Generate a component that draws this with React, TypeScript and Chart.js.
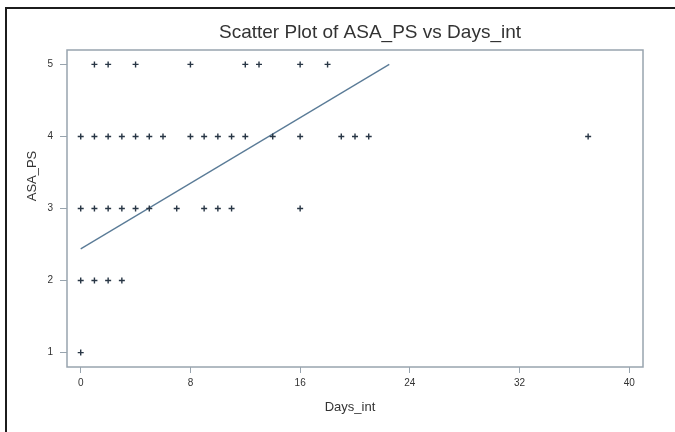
import React, { useEffect, useRef } from "react";
import { Chart, registerables } from "chart.js";

Chart.register(...registerables);

// ---- data ----
const asa5Days = [1, 2, 4, 8, 12, 13, 16, 18];
const asa4Days = [0, 1, 2, 3, 4, 5, 6, 8, 9, 10, 11, 12, 14, 16, 19, 20, 21, 37];
const asa3Days = [0, 1, 2, 3, 4, 5, 7, 9, 10, 11, 16];
const asa2Days = [0, 1, 2, 3];
const asa1Days = [0];
const fitDays = [0, 22.5];
const fitAsa = [2.44, 5.0];
const xTicks = [0, 8, 16, 24, 32, 40];
const yTicks = [1, 2, 3, 4, 5];

const titleText = "Scatter Plot of ASA_PS vs Days_int";
const xTitle = "Days_int";
const yTitle = "ASA_PS";

const FONT = "'Liberation Sans', Arial, sans-serif";
const AXIS_COLOR = "#98a4ae";

const rows: [number, number[]][] = [
  [5, asa5Days],
  [4, asa4Days],
  [3, asa3Days],
  [2, asa2Days],
  [1, asa1Days],
];

const scatterPoints = rows.flatMap(([asa, days]) => days.map((d) => ({ x: d, y: asa })));
const fitPoints = fitDays.map((d, i) => ({ x: d, y: fitAsa[i] }));

const decorPlugin = {
  id: "decor",
  beforeDatasetsDraw(chart: any) {
    const { ctx, chartArea: a } = chart;
    ctx.save();
    ctx.strokeStyle = AXIS_COLOR;
    ctx.lineWidth = 1.5;
    ctx.strokeRect(a.left, a.top, a.right - a.left, a.bottom - a.top);
    ctx.restore();
  },
  afterDraw(chart: any) {
    const { ctx } = chart;
    ctx.save();
    ctx.fillStyle = "#333";
    ctx.textAlign = "center";
    ctx.textBaseline = "middle";
    ctx.font = `19px ${FONT}`;
    ctx.fillText(titleText, 370, 33);
    ctx.font = `13px ${FONT}`;
    ctx.fillText(xTitle, 350, 407);
    ctx.translate(32, 176);
    ctx.rotate(-Math.PI / 2);
    ctx.fillText(yTitle, 0, 0);
    ctx.restore();
  },
};

export default function App() {
  const ref = useRef<HTMLCanvasElement>(null);

  useEffect(() => {
    if (!ref.current) return;
    const chart = new Chart(ref.current, {
      type: "scatter",
      data: {
        datasets: [
          {
            label: "ASA_PS",
            data: scatterPoints,
            pointStyle: "cross",
            pointRadius: 3,
            pointBorderWidth: 1.4,
            borderColor: "#283645",
            backgroundColor: "#283645",
          } as any,
          {
            label: "fit",
            data: fitPoints,
            showLine: true,
            pointRadius: 0,
            borderColor: "#5a7b97",
            borderWidth: 1.3,
          } as any,
        ],
      },
      options: {
        animation: false,
        responsive: false,
        events: [],
        layout: { padding: { top: 50, right: 32, left: 0, bottom: 0 } },
        plugins: {
          legend: { display: false },
          tooltip: { enabled: false },
          title: { display: false },
        },
        scales: {
          x: {
            type: "linear",
            min: -1,
            max: 41,
            afterBuildTicks: (s: any) => {
              s.ticks = xTicks.map((v) => ({ value: v }));
            },
            afterFit: (s: any) => {
              s.height = 65;
            },
            grid: { drawOnChartArea: false, drawTicks: true, tickLength: 6, color: AXIS_COLOR, lineWidth: 1 },
            border: { display: false },
            ticks: { color: "#333", font: { family: FONT, size: 10 }, padding: 4, maxRotation: 0 },
          },
          y: {
            type: "linear",
            min: 0.8,
            max: 5.2,
            afterBuildTicks: (s: any) => {
              s.ticks = yTicks.map((v) => ({ value: v }));
            },
            afterFit: (s: any) => {
              s.width = 67;
            },
            grid: { drawOnChartArea: false, drawTicks: true, tickLength: 7, color: AXIS_COLOR, lineWidth: 1 },
            border: { display: false },
            ticks: { color: "#333", font: { family: FONT, size: 10 }, padding: 7 },
          },
        },
      },
      plugins: [decorPlugin],
    });
    return () => chart.destroy();
  }, []);

  return (
    <div style={{ position: "absolute", left: 0, top: 0, width: 675, height: 432, background: "#fff", overflow: "hidden" }}>
      <canvas ref={ref} width={675} height={432} style={{ position: "absolute", left: 0, top: 0, width: 675, height: 432 }} />
      <div
        style={{
          position: "absolute",
          left: 5,
          top: 7,
          width: 675,
          height: 432,
          borderTop: "2px solid #1c1c1c",
          borderLeft: "2px solid #1c1c1c",
          pointerEvents: "none",
        }}
      />
    </div>
  );
}
